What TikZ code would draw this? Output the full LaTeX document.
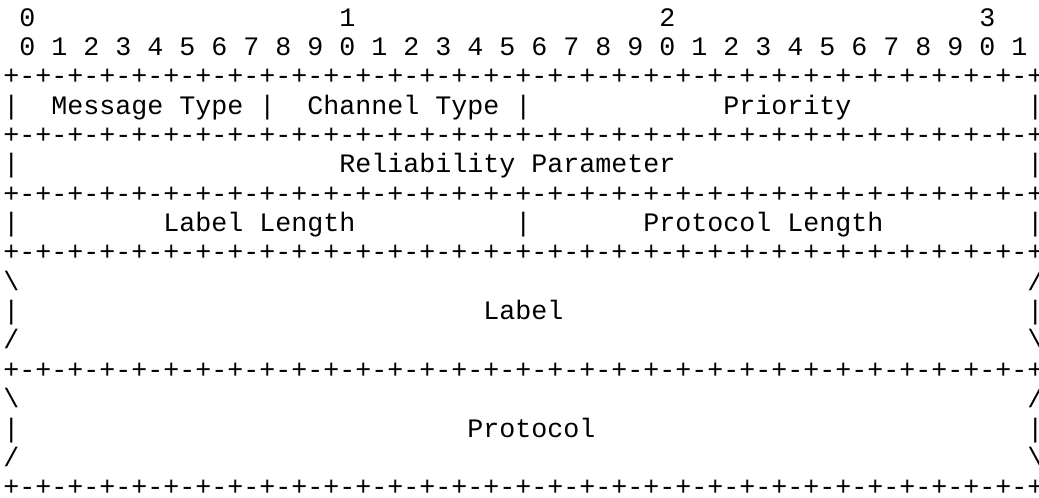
\documentclass[tikz,border=0pt]{standalone}
\usepackage{fontspec}
\usepackage{tikz}
\newfontfamily\asciifont{Liberation Mono}
% one character cell of the ascii drawing is 12pt wide
\newcommand{\blanks}[1]{\hspace*{#1\dimexpr12pt\relax}}
\newcommand{\rulerow}{+\foreach\k in {1,...,32}{-+}}

\begin{document}
\begin{tikzpicture}[
  x=0.75pt,y=-0.75pt,
  every node/.style={font=\asciifont\fontsize{20pt}{22pt}\selectfont,inner sep=0pt,anchor=base west},
  onrow/.style={at={(3,{26+29.36*#1})}}
]
\useasboundingbox (0,0) rectangle (1039,497);
% bit numbers
\node[onrow=0] (tens) {~0\blanks{19}1\blanks{19}2\blanks{19}3};
\node[onrow=1] (bits) {~0~1~2~3~4~5~6~7~8~9~0~1~2~3~4~5~6~7~8~9~0~1~2~3~4~5~6~7~8~9~0~1};
% separators
\foreach \r in {2,4,6,8,12,16}
  \node[onrow=\r] (rule\r) {\rulerow};
% fields
\node[onrow=3] (types) {|\blanks{2}Message Type\blanks{1}|\blanks{2}Channel Type\blanks{1}|\blanks{12}Priority\blanks{11}|};
\node[onrow=5] (reliab) {|\blanks{20}Reliability Parameter\blanks{22}|};
\node[onrow=7] (lengths) {|\blanks{9}Label Length\blanks{10}|\blanks{7}Protocol Length\blanks{9}|};
% variable length label
\node[onrow=9] (labtop) {\textbackslash\blanks{63}/};
\node[onrow=10] (label) {|\blanks{29}Label\blanks{29}|};
\node[onrow=11] (labbot) {/\blanks{63}\textbackslash};
% variable length protocol
\node[onrow=13] (prottop) {\textbackslash\blanks{63}/};
\node[onrow=14] (protocol) {|\blanks{28}Protocol\blanks{27}|};
\node[onrow=15] (protbot) {/\blanks{63}\textbackslash};
\end{tikzpicture}
\end{document}
